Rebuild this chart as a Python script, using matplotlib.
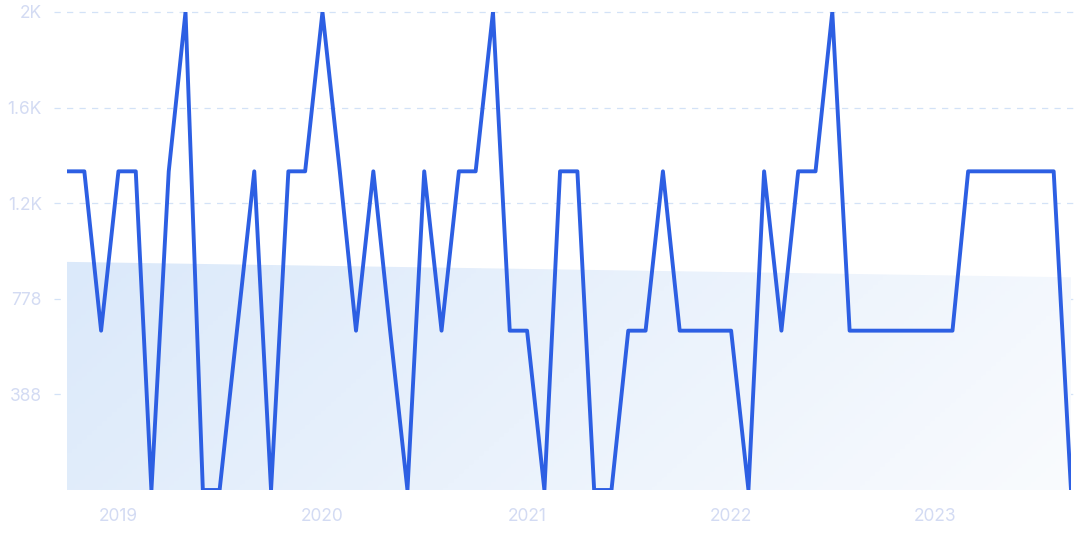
import numpy as np
import matplotlib
matplotlib.use('Agg')
import matplotlib.pyplot as plt
import matplotlib.dates as mdates
from matplotlib.colors import LinearSegmentedColormap
import datetime as dt

plt.rcParams['font.family'] = ['Inter', 'DejaVu Sans']

# monthly values, Oct 2018 .. Sep 2023
start = dt.date(2018, 10, 1)
values = [1296, 1296, 648, 1296, 1296, 0, 1296, 1944, 0, 0,
          648, 1296, 0, 1296, 1296, 1944, 1296, 648, 1296, 648,
          0, 1296, 648, 1296, 1296, 1944, 648, 648, 0, 1296,
          1296, 0, 0, 648, 648, 1296, 648, 648, 648, 648,
          0, 1296, 648, 1296, 1296, 1944, 648, 648, 648, 648,
          648, 648, 648, 1296, 1296, 1296, 1296, 1296, 1296, 0]
ytick_vals = [388.8, 777.6, 1166.4, 1555.2, 1944]
ytick_labels = ['388', '778', '1.2K', '1.6K', '2K']
years = [2019, 2020, 2021, 2022, 2023]

dates = []
for k in range(len(values)):
    m = start.month - 1 + k
    dates.append(dt.date(start.year + m // 12, m % 12 + 1, 1))
x = mdates.date2num(dates)

# linear trend for the shaded area
idx = np.arange(len(values))
p = np.polyfit(idx, values, 1)
trend = np.polyval(p, idx)

fig = plt.figure(figsize=(10.75, 5.37), dpi=100)
ax = fig.add_axes([67/1075, 47/537, 1004/1075, 478/537])

# gradient filled area under the trend
poly = ax.fill_between(x, 0, trend, color='none', lw=0)
cmap = LinearSegmentedColormap.from_list('g', ['#dbe9fa', '#f9fbfe'])
gx, gy = np.meshgrid(np.linspace(0, 1, 200), np.linspace(0, 1, 200))
grad = gx * 0.8 + gy * 0.2
img = ax.imshow(grad, cmap=cmap, extent=[x[0], x[-1], 0, trend.max()],
                aspect='auto', origin='upper', zorder=1)
img.set_clip_path(poly.get_paths()[0], transform=ax.transData)

ax.plot(x, values, color='#2d5fe3', lw=2.8, solid_joinstyle='round', zorder=3)

ax.set_xlim(x[0], x[-1])
ax.set_ylim(0, 1944)

for yv in ytick_vals:
    ax.plot([-0.013, 1.004], [yv, yv], transform=ax.get_yaxis_transform(),
            color='#d3e2f7', lw=0.9, ls=(0, (5, 5)), clip_on=False, zorder=0)

ax.set_yticks(ytick_vals)
ax.set_yticklabels(ytick_labels)
ax.set_xticks(mdates.date2num([dt.date(y, 1, 1) for y in years]))
ax.set_xticklabels([str(y) for y in years])
ax.tick_params(axis='both', length=0, labelsize=12.5, labelcolor='#d3dbf3')
ax.tick_params(axis='y', pad=18)
ax.tick_params(axis='x', pad=13)
for s in ax.spines.values():
    s.set_visible(False)

plt.savefig('out.png', dpi=100)
